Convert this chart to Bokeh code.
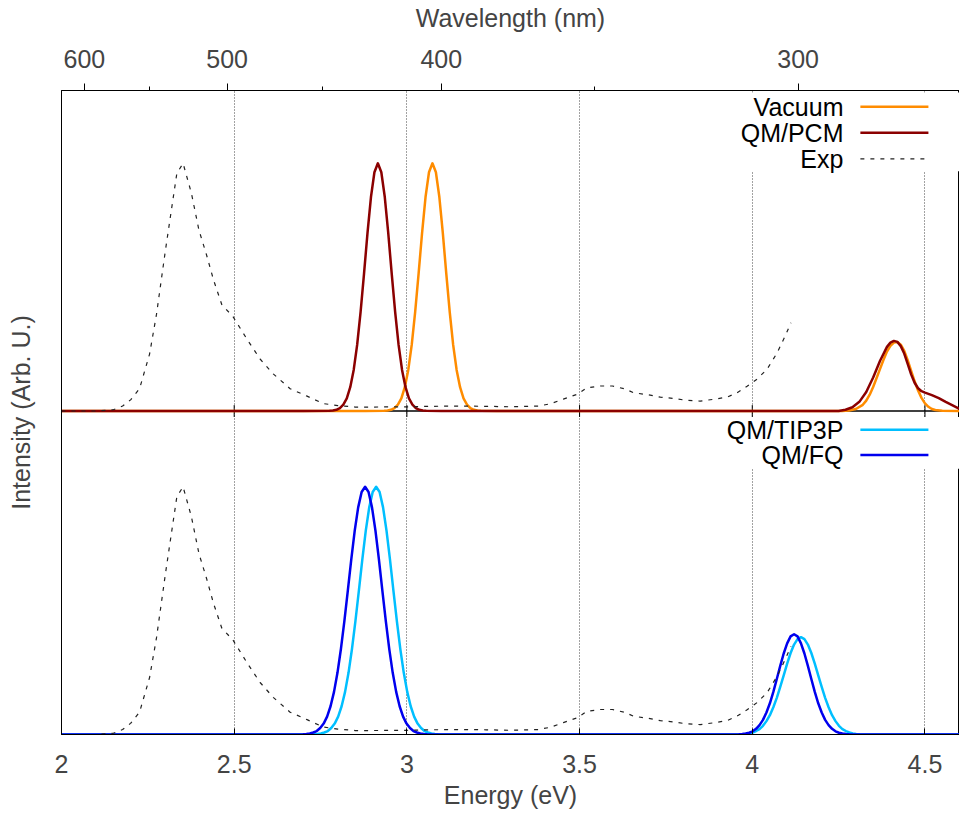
from bokeh.plotting import figure
from bokeh.models import (Range1d, LinearAxis, FixedTicker, CustomJSTickFormatter,
                          NumeralTickFormatter, Span, Label, BoxAnnotation)
from bokeh.embed import file_html
from bokeh.resources import INLINE

# ---------------- data ----------------
EXP_E = [2.00, 2.10, 2.15, 2.177, 2.20, 2.226, 2.255, 2.275, 2.30, 2.318,
         2.334, 2.352, 2.376, 2.398, 2.42, 2.44, 2.464, 2.497, 2.537, 2.575,
         2.613, 2.662, 2.711, 2.758, 2.80, 2.85, 2.90, 3.00, 3.07, 3.15,
         3.23, 3.30, 3.38, 3.415, 3.453, 3.496, 3.52, 3.56, 3.595, 3.632,
         3.656, 3.70, 3.734, 3.77, 3.81, 3.849, 3.887, 3.927, 3.956, 3.985,
         4.014, 4.043, 4.072, 4.095, 4.112]
EXP_I = [0.0, 0.0, 0.005, 0.02, 0.045, 0.09, 0.23, 0.39, 0.64, 0.81,
         0.96, 1.0, 0.88, 0.73, 0.63, 0.53, 0.43, 0.38, 0.29, 0.21,
         0.15, 0.09, 0.06, 0.03, 0.022, 0.016, 0.016, 0.017, 0.019, 0.02,
         0.019, 0.017, 0.02, 0.029, 0.048, 0.069, 0.093, 0.101, 0.101, 0.089,
         0.074, 0.065, 0.056, 0.051, 0.043, 0.04, 0.047, 0.056, 0.074, 0.10,
         0.129, 0.169, 0.235, 0.302, 0.356]

PCM_E = [2.00, 2.70,
         2.776, 2.786, 2.796, 2.806, 2.816, 2.826, 2.836, 2.846, 2.856, 2.866,
         2.876, 2.886, 2.896, 2.906, 2.916, 2.926, 2.936, 2.946, 2.956, 2.966,
         2.976, 2.986, 2.996, 3.006, 3.016, 3.026, 3.036, 3.046, 3.056,
         3.10, 4.25,
         4.27, 4.29, 4.31, 4.33, 4.35, 4.37, 4.39, 4.40, 4.41, 4.42,
         4.43, 4.44, 4.45, 4.46, 4.47, 4.48, 4.49, 4.50, 4.52, 4.54,
         4.56, 4.58, 4.60]
PCM_I = [0, 0,
         0.001, 0.002, 0.005, 0.012, 0.026, 0.051, 0.096, 0.166, 0.267, 0.400,
         0.556, 0.719, 0.864, 0.964, 1.000, 0.964, 0.864, 0.719, 0.556, 0.400,
         0.267, 0.166, 0.096, 0.051, 0.026, 0.012, 0.005, 0.002, 0.001,
         0, 0,
         0.005, 0.015, 0.037, 0.077, 0.135, 0.203, 0.259, 0.276, 0.283, 0.279,
         0.262, 0.232, 0.190, 0.148, 0.114, 0.092, 0.080, 0.074, 0.064, 0.052,
         0.037, 0.023, 0.009]

VAC_E = [2.00, 2.88,
         2.934, 2.944, 2.954, 2.964, 2.974, 2.984, 2.994, 3.004, 3.014, 3.024,
         3.034, 3.044, 3.054, 3.064, 3.074, 3.084, 3.094, 3.104, 3.114, 3.124,
         3.134, 3.144, 3.154, 3.164, 3.174, 3.184, 3.194, 3.204, 3.214,
         3.26, 4.26,
         4.28, 4.30, 4.32, 4.33, 4.34, 4.35, 4.36, 4.37, 4.38, 4.39,
         4.40, 4.41, 4.42, 4.43, 4.44, 4.45, 4.46, 4.47, 4.48, 4.49,
         4.50, 4.51, 4.52, 4.53, 4.55, 4.60]
VAC_I = [0, 0,
         0.001, 0.002, 0.005, 0.012, 0.026, 0.051, 0.096, 0.166, 0.267, 0.400,
         0.556, 0.719, 0.864, 0.964, 1.000, 0.964, 0.864, 0.719, 0.556, 0.400,
         0.267, 0.166, 0.096, 0.051, 0.026, 0.012, 0.005, 0.002, 0.001,
         0, 0,
         0.002, 0.008, 0.025, 0.042, 0.066, 0.097, 0.133, 0.170, 0.207, 0.240,
         0.263, 0.276, 0.279, 0.268, 0.243, 0.205, 0.162, 0.120, 0.083, 0.053,
         0.031, 0.017, 0.008, 0.004, 0.001, 0]

TIP_E = [2.00, 2.70,
         2.731, 2.741, 2.751, 2.761, 2.771, 2.781, 2.791, 2.801, 2.811, 2.821,
         2.831, 2.841, 2.851, 2.861, 2.871, 2.881, 2.891, 2.901, 2.911, 2.921,
         2.931, 2.941, 2.951, 2.961, 2.971, 2.981, 2.991, 3.001, 3.011, 3.021,
         3.031, 3.041, 3.051, 3.061, 3.071, 3.081, 3.091,
         3.15, 3.94,
         3.971, 3.981, 3.991, 4.001, 4.011, 4.021, 4.031, 4.041, 4.051, 4.061,
         4.071, 4.081, 4.091, 4.101, 4.111, 4.121, 4.131, 4.141, 4.151, 4.161,
         4.171, 4.181, 4.191, 4.201, 4.211, 4.221, 4.231, 4.241, 4.251, 4.261,
         4.271, 4.281, 4.291, 4.301, 4.311,
         4.40, 4.60]
TIP_I = [0, 0,
         0.001, 0.002, 0.004, 0.008, 0.014, 0.026, 0.044, 0.072, 0.114, 0.172,
         0.249, 0.345, 0.458, 0.581, 0.707, 0.823, 0.917, 0.979, 1.000, 0.979,
         0.917, 0.823, 0.707, 0.581, 0.458, 0.345, 0.249, 0.172, 0.114, 0.072,
         0.044, 0.026, 0.014, 0.008, 0.004, 0.002, 0.001,
         0, 0,
         0.001, 0.002, 0.004, 0.008, 0.014, 0.022, 0.035, 0.054, 0.078, 0.110,
         0.148, 0.192, 0.239, 0.286, 0.329, 0.363, 0.385, 0.393, 0.385, 0.363,
         0.329, 0.286, 0.239, 0.192, 0.148, 0.110, 0.078, 0.054, 0.035, 0.022,
         0.014, 0.008, 0.004, 0.002, 0.001,
         0, 0]

FQ_E = [2.00, 2.66,
        2.699, 2.709, 2.719, 2.729, 2.739, 2.749, 2.759, 2.769, 2.779, 2.789,
        2.799, 2.809, 2.819, 2.829, 2.839, 2.849, 2.859, 2.869, 2.879, 2.889,
        2.899, 2.909, 2.919, 2.929, 2.939, 2.949, 2.959, 2.969, 2.979, 2.989,
        2.999, 3.009, 3.019, 3.029, 3.039, 3.049, 3.059,
        3.12, 3.93,
        3.961, 3.971, 3.981, 3.991, 4.001, 4.011, 4.021, 4.031, 4.041, 4.051,
        4.061, 4.071, 4.081, 4.091, 4.101, 4.111, 4.121, 4.131, 4.141, 4.151,
        4.161, 4.171, 4.181, 4.191, 4.201, 4.211, 4.221, 4.231, 4.241, 4.251,
        4.261, 4.271, 4.281,
        4.35, 4.60]
FQ_I = [0, 0,
        0.001, 0.002, 0.004, 0.008, 0.014, 0.026, 0.044, 0.072, 0.114, 0.172,
        0.249, 0.345, 0.458, 0.581, 0.707, 0.823, 0.917, 0.979, 1.000, 0.979,
        0.917, 0.823, 0.707, 0.581, 0.458, 0.345, 0.249, 0.172, 0.114, 0.072,
        0.044, 0.026, 0.014, 0.008, 0.004, 0.002, 0.001,
        0, 0,
        0.001, 0.002, 0.004, 0.007, 0.013, 0.023, 0.038, 0.059, 0.089, 0.126,
        0.172, 0.224, 0.277, 0.327, 0.368, 0.396, 0.405, 0.396, 0.368, 0.327,
        0.277, 0.224, 0.172, 0.126, 0.089, 0.059, 0.038, 0.023, 0.013, 0.007,
        0.004, 0.002, 0.001,
        0, 0]

E_TICKS = [2, 2.5, 3, 3.5, 4, 4.5]
WL_MAJOR = [600, 500, 400, 300]
WL_MINOR = [550, 450, 350]
HC = 1239.84  # eV*nm

TOP_LABELS = ["Vacuum", "QM/PCM", "Exp"]
BOT_LABELS = ["QM/TIP3P", "QM/FQ"]

# ---------------- styles / layout ----------------
C_VAC = "#ff8c00"
C_PCM = "#8b0000"
C_TIP = "#00bfff"
C_FQ = "#0000ee"
C_EXP = "#222222"
FONT = "Liberation Sans"
FS = "25px"
LW = 2.5

X0, X1 = 2.0, 4.6
H_BOT = 1.306
H_TOP = 1.294

p = figure(width=959, height=813,
           x_range=Range1d(X0, X1), y_range=Range1d(0, H_BOT + H_TOP),
           output_backend="svg", toolbar_location=None,
           min_border_left=61, min_border_right=0,
           min_border_top=89, min_border_bottom=79)
p.extra_y_ranges = {"top": Range1d(-H_BOT, H_TOP)}
p.background_fill_color = "white"
p.border_fill_color = "white"
p.outline_line_color = "black"
p.outline_line_width = 1

xa = p.xaxis[0]
xa.ticker = FixedTicker(ticks=E_TICKS, minor_ticks=[])
xa.formatter = NumeralTickFormatter(format="0.[0]")
xa.axis_label = "Energy (eV)"
xa.axis_label_text_font = FONT
xa.axis_label_text_font_size = FS
xa.axis_label_text_font_style = "normal"
xa.axis_label_standoff = 5
xa.major_label_text_font = FONT
xa.major_label_text_font_size = FS
xa.major_label_standoff = 20
xa.major_tick_in = 6
xa.major_tick_out = 0
xa.axis_line_color = "black"

ya = p.yaxis[0]
ya.ticker = FixedTicker(ticks=[])
ya.major_tick_out = 0
ya.major_tick_in = 0
ya.minor_tick_out = 0
ya.axis_label = "Intensity (Arb. U.)"
ya.axis_label_text_font = FONT
ya.axis_label_text_font_size = FS
ya.axis_label_text_font_style = "normal"
ya.axis_label_standoff = 27

wa = LinearAxis(ticker=FixedTicker(ticks=[HC / w for w in WL_MAJOR],
                                   minor_ticks=[HC / w for w in WL_MINOR]),
                formatter=CustomJSTickFormatter(code="return String(Math.round(1239.84 / tick));"),
                axis_label="Wavelength (nm)")
wa.axis_label_text_font = FONT
wa.axis_label_text_font_size = FS
wa.axis_label_text_font_style = "normal"
wa.axis_label_standoff = 15
wa.major_label_text_font = FONT
wa.major_label_text_font_size = FS
wa.major_label_standoff = 16
wa.major_tick_out = 7
wa.major_tick_in = 0
wa.minor_tick_out = 4
wa.minor_tick_in = 0
p.add_layout(wa, "above")

p.ygrid.visible = False
p.xgrid.ticker = FixedTicker(ticks=E_TICKS, minor_ticks=[])
p.xgrid.grid_line_color = "#444444"
p.xgrid.grid_line_dash = "1 2"
p.xgrid.grid_line_width = 1

p.add_layout(Span(location=H_BOT, dimension="width", line_color="black",
                  line_width=1.5, level="underlay"))
p.segment(x0=E_TICKS[1:], x1=E_TICKS[1:], y0=H_BOT - 0.024, y1=H_BOT + 0.024,
          line_color="black", line_width=1)

p.add_layout(BoxAnnotation(left=3.93, right=X1, top=H_BOT + H_TOP - 0.008, bottom=2.274,
                           fill_color="white", fill_alpha=1, line_alpha=0, level="underlay"))
p.add_layout(BoxAnnotation(left=3.93, right=X1, top=1.282, bottom=1.073,
                           fill_color="white", fill_alpha=1, line_alpha=0, level="underlay"))

p.line(VAC_E, VAC_I, y_range_name="top", line_color=C_VAC, line_width=LW, line_join="round")
p.line(PCM_E, PCM_I, y_range_name="top", line_color=C_PCM, line_width=LW, line_join="round")
p.line(EXP_E, EXP_I, y_range_name="top", line_color=C_EXP, line_width=1.2, line_dash="4 6")
p.line(TIP_E, TIP_I, line_color=C_TIP, line_width=LW, line_join="round")
p.line(FQ_E, FQ_I, line_color=C_FQ, line_width=LW, line_join="round")
p.line(EXP_E, EXP_I, line_color=C_EXP, line_width=1.2, line_dash="4 6")

KEY_TEXT_X = 4.264
KEY_X0, KEY_X1 = 4.313, 4.510
top_rows = [2.534, 2.429, 2.324]
bot_rows = [1.230, 1.128]
top_styles = [(C_VAC, LW, "solid"), (C_PCM, LW, "solid"), (C_EXP, 1.2, "4 6")]
bot_styles = [(C_TIP, LW, "solid"), (C_FQ, LW, "solid")]
for lab, yy, (c, w, d) in list(zip(TOP_LABELS, top_rows, top_styles)) + list(zip(BOT_LABELS, bot_rows, bot_styles)):
    p.add_layout(Label(x=KEY_TEXT_X, y=yy, text=lab, text_align="right", text_baseline="middle",
                       text_font=FONT, text_font_size=FS, text_color="black"))
    p.segment(x0=[KEY_X0], x1=[KEY_X1], y0=[yy], y1=[yy], line_color=c, line_width=w, line_dash=d)

open("out.html", "w").write(file_html(p, INLINE))
